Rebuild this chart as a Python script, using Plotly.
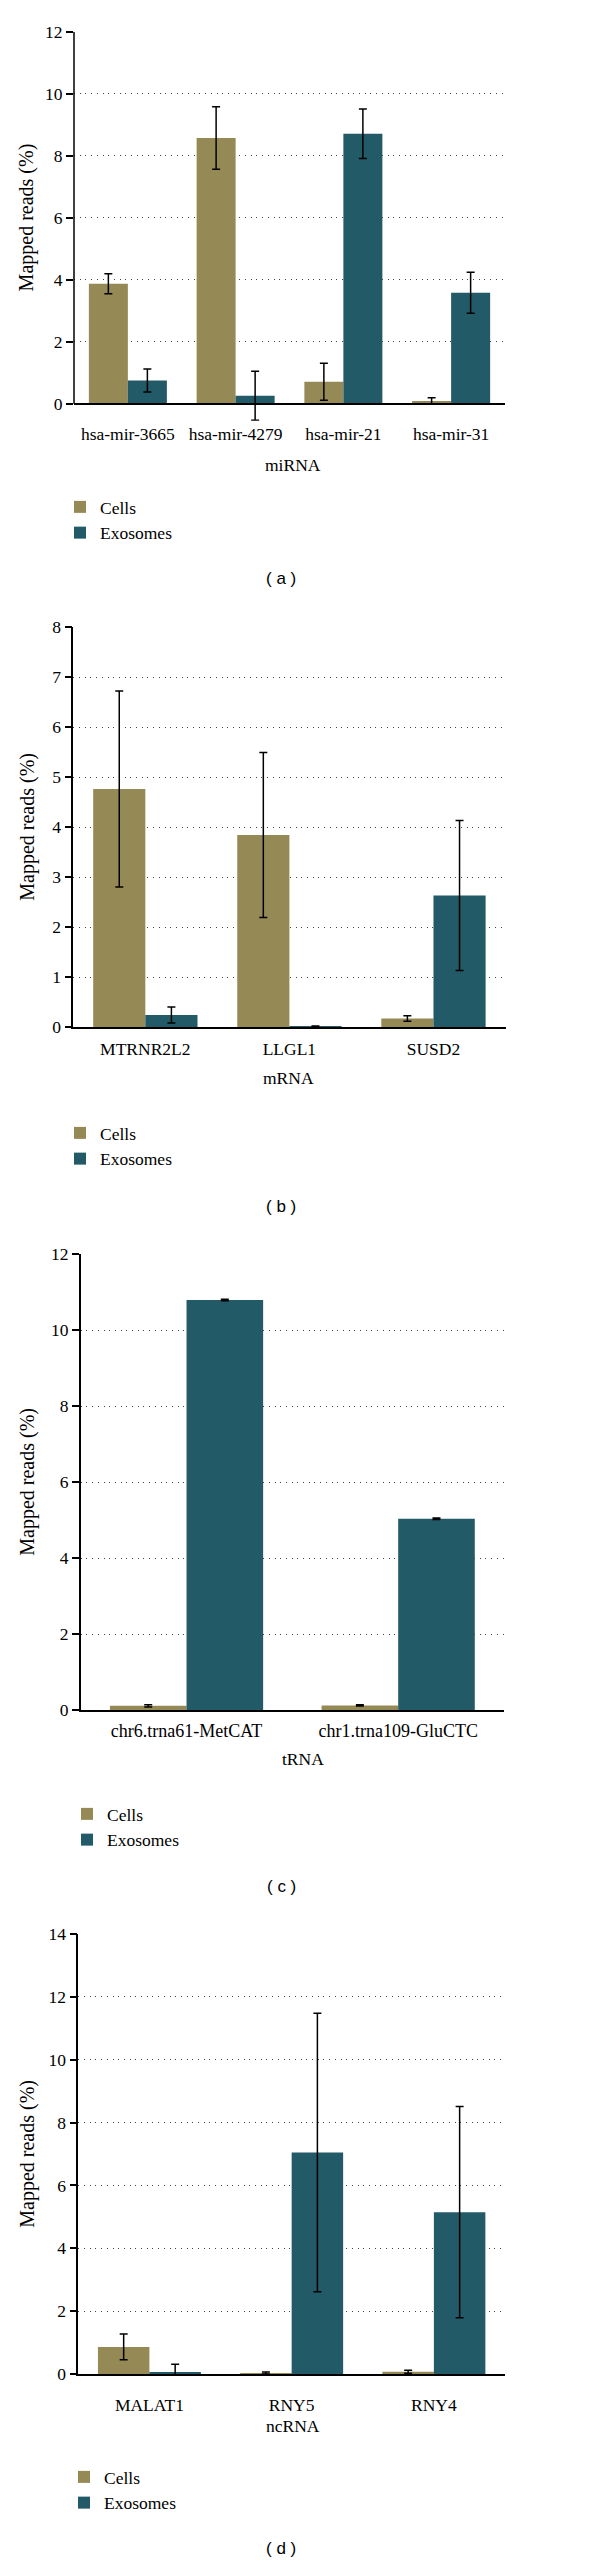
import plotly.graph_objects as go

W, H = 600, 2564
OFF = 8  # page body margin of the html page
FW, FH = W - OFF, H - OFF

# ---------------- data ----------------
series_names = ["Cells", "Exosomes"]
colors = ["#958A55", "#235A67"]

mirna_cats = ["hsa-mir-3665", "hsa-mir-4279", "hsa-mir-21", "hsa-mir-31"]
mirna_cells = [3.87, 8.57, 0.71, 0.09]
mirna_cells_err = [0.32, 1.01, 0.60, 0.10]
mirna_exo = [0.75, 0.26, 8.71, 3.58]
mirna_exo_err = [0.37, 0.79, 0.80, 0.66]

mrna_cats = ["MTRNR2L2", "LLGL1", "SUSD2"]
mrna_cells = [4.76, 3.84, 0.17]
mrna_cells_err = [1.96, 1.65, 0.055]
mrna_exo = [0.24, 0.01, 2.63]
mrna_exo_err = [0.16, 0.01, 1.50]

trna_cats = ["chr6.trna61-MetCAT", "chr1.trna109-GluCTC"]
trna_cells = [0.11, 0.12]
trna_cells_err = [0.03, 0.015]
trna_exo = [10.79, 5.03]
trna_exo_err = [0.02, 0.02]

ncrna_cats = ["MALAT1", "RNY5", "RNY4"]
ncrna_cells = [0.86, 0.03, 0.07]
ncrna_cells_err = [0.41, 0.03, 0.05]
ncrna_exo = [0.04, 7.05, 5.15]
ncrna_exo_err = [0.27, 4.43, 3.36]

y_ticks_a = [0, 2, 4, 6, 8, 10, 12]
y_ticks_b = [0, 1, 2, 3, 4, 5, 6, 7, 8]
y_ticks_c = [0, 2, 4, 6, 8, 10, 12]
y_ticks_d = [0, 2, 4, 6, 8, 10, 12, 14]

y_title = "Mapped reads (%)"

# ---------------- layout geometry (page pixels) ----------------
def px(x):
    return (x - OFF) / FW

def py(y):
    return 1 - (y - OFF) / FH

panels = [
    dict(cats=mirna_cats, vals=[mirna_cells, mirna_exo], errs=[mirna_cells_err, mirna_exo_err],
         ticks=y_ticks_a, yrange=[-0.55, 12], x0=74, x1=505, ytop=31.7, ybot=420.8, base=403.7,
         xtitle="miRNA", xt=(293, 465), cap="( a )", capy=578, leg=(60, 489), standoff=14,
         catfont=17.5),
    dict(cats=mrna_cats, vals=[mrna_cells, mrna_exo], errs=[mrna_cells_err, mrna_exo_err],
         ticks=y_ticks_b, yrange=[0, 8], x0=73.3, x1=505.5, ytop=627, ybot=1027, base=1027,
         xtitle="mRNA", xt=(288, 1078), cap="( b )", capy=1206.7, leg=(60, 1115), standoff=5,
         catfont=17.5),
    dict(cats=trna_cats, vals=[trna_cells, trna_exo], errs=[trna_cells_err, trna_exo_err],
         ticks=y_ticks_c, yrange=[0, 12], x0=80.7, x1=504, ytop=1254, ybot=1710, base=1710,
         xtitle="tRNA", xt=(303, 1759), cap="( c )", capy=1886.7, leg=(67, 1796), standoff=3,
         catfont=18),
    dict(cats=ncrna_cats, vals=[ncrna_cells, ncrna_exo], errs=[ncrna_cells_err, ncrna_exo_err],
         ticks=y_ticks_d, yrange=[0, 14], x0=78.3, x1=505, ytop=1934, ybot=2374, base=2374,
         xtitle="ncRNA", xt=(293, 2425.7), cap="( d )", capy=2548, leg=(64, 2459), standoff=14,
         catfont=17.5),
]

SERIF = "Liberation Serif, Times New Roman, serif"
SANS = "Liberation Sans, Arial, sans-serif"

fig = go.Figure()
layout = dict(
    width=FW, height=FH,
    margin=dict(l=0, r=0, t=0, b=0, pad=0, autoexpand=False),
    paper_bgcolor="white", plot_bgcolor="white",
    barmode="group", bargap=0.276, bargroupgap=0,
    showlegend=True,
    annotations=[], shapes=[],
    font=dict(family=SERIF, color="black"),
)

for i, p in enumerate(panels):
    n = "" if i == 0 else str(i + 1)
    xa, ya = "x" + n, "y" + n
    leg = "legend" + n
    for s in range(2):
        fig.add_trace(go.Bar(
            x=p["cats"], y=p["vals"][s], name=series_names[s],
            marker=dict(color=colors[s], line=dict(width=0)),
            error_y=dict(type="data", array=p["errs"][s], visible=True,
                         color="black", thickness=1.5, width=4),
            xaxis=xa, yaxis=ya, legend=leg, offsetgroup=str(s),
        ))
    xdom = [px(p["x0"]), px(p["x1"])]
    ydom = [py(p["ybot"]), py(p["ytop"])]
    xaxis = dict(
        domain=xdom, type="category", range=[-0.5, len(p["cats"]) - 0.5],
        showline=True, linecolor="black", linewidth=2, ticks="",
        showgrid=False, zeroline=False, automargin=False,
        tickfont=dict(family=SERIF, size=p["catfont"], color="black"),
        ticklabelstandoff=p["standoff"], fixedrange=True,
    )
    if p["base"] != p["ybot"]:
        xaxis.update(anchor="free", position=py(p["base"]))
    else:
        xaxis.update(anchor=ya)
    layout["xaxis" + n] = xaxis
    yaxis = dict(
        domain=ydom, range=p["yrange"], anchor=xa,
        tickvals=p["ticks"], ticktext=[str(t) for t in p["ticks"]],
        ticks="outside", ticklen=7, tickwidth=1.5, tickcolor="black",
        showline=(p["base"] == p["ybot"]), linecolor="black", linewidth=1.5,
        showgrid=True, gridcolor="#444", gridwidth=1, griddash="1px,4.7px",
        zeroline=False, automargin=False,
        tickfont=dict(family=SERIF, size=17.5, color="black"),
        fixedrange=True,
    )
    layout["yaxis" + n] = yaxis
    if p["base"] != p["ybot"]:
        layout["shapes"].append(dict(
            type="line", xref=xa + " domain", x0=0, x1=0, yref=ya,
            y0=0, y1=p["ticks"][-1], line=dict(color="black", width=1.5), layer="above"))
    layout[leg] = dict(
        x=px(p["leg"][0]), y=py(p["leg"][1]), xanchor="left", yanchor="top",
        font=dict(family=SERIF, size=17.5, color="black"),
        bgcolor="rgba(0,0,0,0)", tracegroupgap=0, traceorder="normal",
    )
    # y-axis title
    layout["annotations"].append(dict(
        text=y_title, x=px(26.7), y=py((p["ytop"] + p["base"]) / 2),
        xref="paper", yref="paper", showarrow=False, textangle=-90,
        font=dict(family=SERIF, size=20, color="black"),
        xanchor="center", yanchor="middle"))
    # x-axis title
    layout["annotations"].append(dict(
        text=p["xtitle"], x=px(p["xt"][0]), y=py(p["xt"][1]),
        xref="paper", yref="paper", showarrow=False,
        font=dict(family=SERIF, size=17.5, color="black"),
        xanchor="center", yanchor="middle"))
    # panel caption
    layout["annotations"].append(dict(
        text=p["cap"], x=px(281), y=py(p["capy"]),
        xref="paper", yref="paper", showarrow=False,
        font=dict(family=SANS, size=17, color="black"),
        xanchor="center", yanchor="middle"))

fig.update_layout(**layout)
fig.write_html("out.html")
